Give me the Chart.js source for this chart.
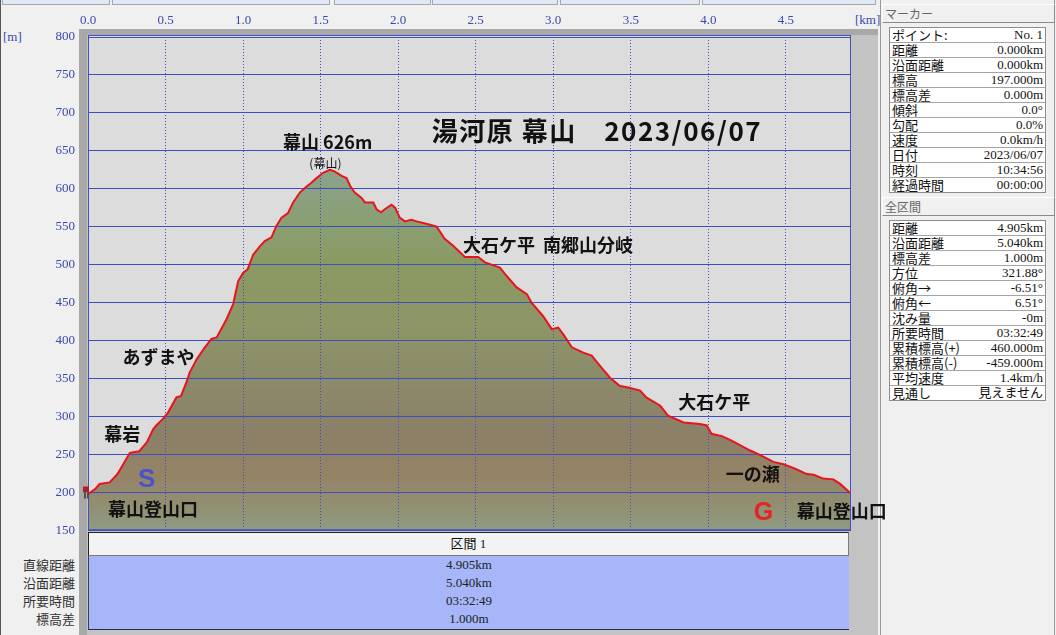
<!DOCTYPE html>
<html lang="ja">
<head>
<meta charset="utf-8">
<title>湯河原 幕山 2023/06/07</title>
<script src="https://cdn.jsdelivr.net/npm/chart.js@4.4.1/dist/chart.umd.min.js"></script>
<style>
  html, body { margin: 0; padding: 0; }
  body {
    width: 1056px; height: 635px; background: #f0f0f0;
    position: relative; overflow: hidden;
    font-family: "Noto Sans CJK JP", sans-serif; color: #111;
  }
  .abs { position: absolute; }
  .tab { top: 0; height: 4px; background: #dfe8f4; border: 1px solid #a8a8a8; border-top: 0; }
  #frame { left: 79px; top: 29px; width: 799px; height: 606px; background: #c3c3c3; }
  #frameL { left: 79px; top: 29px; width: 8px; height: 606px; background: #a8a8a8; }
  #frameT { left: 79px; top: 29px; width: 799px; height: 6px; background: #a8a8a8; }
  #chartBox { left: 0; top: 0; width: 895px; height: 551px; }
  .unit { font: 13px "Liberation Serif", serif; color: #3a48aa; }
  #secHead {
    left: 88px; top: 532px; width: 759px; height: 22px;
    background: #f3f3f3; border: 1px solid #7a7a7a; border-top-color: #222; border-left-color: #222;
    text-align: center; line-height: 22px; font: 13px "Liberation Serif", "Noto Sans CJK JP", serif;
  }
  #secBody {
    left: 88px; top: 556px; width: 760px; height: 73px;
    background: #a6b6f8; border-left: 1px solid #3a3a5a; border-bottom: 1px solid #2a2a4a;
    text-align: center; font: 13px "Liberation Serif", serif; color: #222;
  }
  #secBody div, #secLabels div { height: 18px; line-height: 18px; }
  #secLabels { left: 0; top: 556px; width: 75px; text-align: right; font-size: 13px; color: #333; }
  .vline { top: 0; width: 1px; height: 635px; background: #9a9a9a; }
  .phead {
    left: 882px; width: 169px; height: 17px; line-height: 17px;
    background: #f0f0f0; border: 1px solid #8a8a8a; border-top-color: #fff; border-left-color: #fff;
    font-size: 12px; color: #666; padding-left: 2px; box-sizing: content-box;
  }
  .ptable { left: 889px; width: 155px; border: 1px solid #8c8c8c; background: #fff; }
  .prow { height: 14px; border-bottom: 1px solid #a4a4a4; position: relative; font-size: 13px; line-height: 14px; }
  .prow:last-child { border-bottom: 0; height: 14px; }
  .prow .k { position: absolute; left: 2px; top: 0; }
  .prow .v { position: absolute; right: 2px; top: 0; font-family: "Liberation Serif", "Noto Sans CJK JP", serif; }
</style>
</head>
<body>
<div class="abs tab" style="left:2px;width:106px"></div>
<div class="abs tab" style="left:112px;width:216px"></div>
<div class="abs tab" style="left:334px;width:95px"></div>
<div class="abs tab" style="left:432px;width:124px"></div>
<div class="abs tab" style="left:560px;width:138px"></div>
<div class="abs tab" style="left:702px;width:172px"></div>
<div class="abs" style="left:0;top:0;width:1px;height:635px;background:#555"></div>

<div id="frame" class="abs"></div>
<div id="frameL" class="abs"></div>
<div id="frameT" class="abs"></div>

<div class="abs unit" style="left:3px;top:29px">[m]</div>
<div class="abs unit" style="left:855px;top:12px">[km]</div>

<div id="secHead" class="abs"></div>
<div id="secBody" class="abs"></div>
<div id="secLabels" class="abs"></div>

<div class="abs vline" style="left:880px"></div>
<div class="abs vline" style="left:1054px"></div>
<div class="abs phead" style="top:4px">マーカー</div>
<div id="markerTable" class="abs ptable" style="top:27px"></div>
<div class="abs phead" style="top:197px">全区間</div>
<div id="totalTable" class="abs ptable" style="top:220px"></div>

<div id="chartBox" class="abs"><canvas id="profile" width="895" height="551"></canvas></div>

<script>
// 断面データ (水平距離 km / 標高 m) — 画像から読み取り
const distKm = [
  0.00, 0.01, 0.05, 0.075, 0.14, 0.19, 0.23, 0.27, 0.33, 0.38,
  0.42, 0.44, 0.48, 0.516, 0.57, 0.60, 0.635, 0.656, 0.70, 0.75,
  0.796, 0.83, 0.893, 0.936, 0.968, 1.00, 1.03, 1.065, 1.108, 1.14,
  1.183, 1.215, 1.248, 1.29, 1.323, 1.366, 1.398, 1.44, 1.474, 1.516,
  1.56, 1.59, 1.635, 1.667, 1.69, 1.72, 1.764, 1.785, 1.84, 1.86,
  1.89, 1.914, 1.957, 1.98, 2.01, 2.043, 2.086, 2.12, 2.20, 2.248,
  2.30, 2.355, 2.43, 2.516, 2.56, 2.656, 2.70, 2.764, 2.83, 2.86,
  2.935, 2.99, 3.032, 3.065, 3.12, 3.194, 3.248, 3.30, 3.366, 3.43,
  3.484, 3.56, 3.60, 3.69, 3.74, 3.84, 3.946, 3.99, 4.02, 4.087,
  4.15, 4.27, 4.345, 4.42, 4.484, 4.56, 4.635, 4.68, 4.74, 4.806,
  4.85, 4.915
];
const elevM = [
  197, 199, 205, 211, 213, 224, 238, 252, 254, 266,
  283, 288, 296, 305, 325, 327, 345, 358, 375, 390,
  402, 404, 428, 448, 478, 489, 494, 513, 524, 531,
  536, 551, 562, 568, 582, 595, 601, 608, 614, 621,
  625, 623, 617, 614, 604, 595, 588, 582, 582, 573,
  569, 573, 579, 575, 562, 557, 559, 557, 553, 550,
  534, 525, 510, 510, 503, 496, 485, 470, 461, 450,
  432, 415, 417, 408, 391, 384, 380, 367, 351, 340,
  338, 334, 325, 314, 301, 292, 290, 288, 277, 274,
  268, 255, 248, 240, 237, 231, 224, 223, 218, 217,
  211, 199
];

// 軸
const xMin = 0, xMax = 4.92, xStep = 0.5;
const yMin = 150, yMax = 800, yStep = 50;

// 地点名 (km, m)
const placeNames = ['幕山 626m', '(幕山)', '大石ケ平  南郷山分岐', 'あずまや', '幕岩', '幕山登山口', '大石ケ平', '一の瀬', '幕山登山口'];
const placeKm    = [1.545, 1.531, 2.966, 0.455, 0.221, 0.419, 4.039, 4.287, 4.86];
const placeM     = [661, 633, 526, 378, 276, 178, 319, 224, 175];
const titleText = '湯河原 幕山　2023/06/07';
const titleKm = 3.282, titleM = 676.5;

// 区間 表
const sectionName = '区間 1';
const sectionLabels = ['直線距離', '沿面距離', '所要時間', '標高差'];
const sectionValues = ['4.905km', '5.040km', '03:32:49', '1.000m'];

// 右パネル
const markerKeys = ['ポイント:', '距離', '沿面距離', '標高', '標高差', '傾斜', '勾配', '速度', '日付', '時刻', '経過時間'];
const markerVals = ['No. 1', '0.000km', '0.000km', '197.000m', '0.000m', '0.0°', '0.0%', '0.0km/h', '2023/06/07', '10:34:56', '00:00:00'];
const totalKeys = ['距離', '沿面距離', '標高差', '方位', '俯角→', '俯角←', '沈み量', '所要時間', '累積標高(+)', '累積標高(-)', '平均速度', '見通し'];
const totalVals = ['4.905km', '5.040km', '1.000m', '321.88°', '-6.51°', '6.51°', '-0m', '03:32:49', '460.000m', '-459.000m', '1.4km/h', '見えません'];

function fillTable(id, keys, vals) {
  const el = document.getElementById(id);
  keys.forEach(function (k, i) {
    const row = document.createElement('div');
    row.className = 'prow';
    row.innerHTML = '<span class="k"></span><span class="v"></span>';
    row.children[0].textContent = k;
    row.children[1].textContent = vals[i];
    el.appendChild(row);
  });
}
fillTable('markerTable', markerKeys, markerVals);
fillTable('totalTable', totalKeys, totalVals);

document.getElementById('secHead').textContent = sectionName;
sectionValues.forEach(function (v) {
  const d = document.createElement('div'); d.textContent = v;
  document.getElementById('secBody').appendChild(d);
});
sectionLabels.forEach(function (v) {
  const d = document.createElement('div'); d.textContent = v;
  document.getElementById('secLabels').appendChild(d);
});

const gridBlue = '#3b4ec2';

// 標高グラデーション
function elevGradient(context) {
  const chart = context.chart;
  if (!chart.chartArea) return '#8c9468';
  const ys = chart.scales.y;
  const g = chart.ctx.createLinearGradient(0, ys.getPixelForValue(yMax), 0, ys.getPixelForValue(yMin));
  g.addColorStop(0.00, '#8ea690');
  g.addColorStop(0.26, '#8ba28c');
  g.addColorStop(0.37, '#8a9f74');
  g.addColorStop(0.46, '#8a9a62');
  g.addColorStop(0.585, '#8e9566');
  g.addColorStop(0.69, '#8b8b6a');
  g.addColorStop(0.80, '#8b8068');
  g.addColorStop(0.89, '#958366');
  g.addColorStop(0.955, '#929072');
  g.addColorStop(1.00, '#8e9c84');
  return g;
}

const framePlugin = {
  id: 'frame',
  beforeDraw(chart) {
    const a = chart.chartArea, ctx = chart.ctx;
    ctx.save();
    ctx.fillStyle = '#dcdcdc';
    ctx.fillRect(a.left, a.top - 2, a.right - a.left, a.bottom - a.top + 2);
    ctx.restore();
  },
  beforeDatasetDraw(chart, args) {
    // 塗りの上にグリッドを描き直す
    if (args.index !== 0) return;
    chart.scales.x.drawGrid(chart.chartArea);
    chart.scales.y.drawGrid(chart.chartArea);
  },
  afterDatasetsDraw(chart) {
    const a = chart.chartArea, ctx = chart.ctx;
    const xs = chart.scales.x, ys = chart.scales.y;
    ctx.save();
    ctx.strokeStyle = '#4450c0';
    ctx.lineWidth = 1;
    ctx.strokeRect(a.left + 0.5, a.top - 1.5, a.right - a.left - 1, a.bottom - a.top + 1);

    // ハイカーのアイコン
    const sx = xs.getPixelForValue(distKm[0]), sy = ys.getPixelForValue(elevM[0]);
    ctx.fillStyle = '#d8a070'; ctx.fillRect(sx - 3, sy - 11, 3, 3);
    ctx.fillStyle = '#a82030'; ctx.fillRect(sx - 5, sy - 8, 6, 6);
    ctx.fillStyle = '#505050'; ctx.fillRect(sx - 4, sy - 2, 2, 6); ctx.fillRect(sx - 1, sy - 2, 2, 6);

    ctx.textAlign = 'center';
    ctx.textBaseline = 'middle';
    ctx.fillStyle = '#111';
    ctx.font = 'bold 26px "Noto Sans CJK JP"';
    ctx.letterSpacing = '1.5px';
    ctx.fillText(titleText, xs.getPixelForValue(titleKm), ys.getPixelForValue(titleM));
    ctx.letterSpacing = '0px';

    placeNames.forEach(function (t, i) {
      ctx.font = t.charAt(0) === '(' ? '12px "Noto Sans CJK JP"' : 'bold 18px "Noto Sans CJK JP"';
      ctx.fillStyle = '#111';
      ctx.fillText(t, xs.getPixelForValue(placeKm[i]), ys.getPixelForValue(placeM[i]));
    });

    ctx.font = 'bold 26px "Liberation Sans"';
    ctx.fillStyle = '#4a52cc';
    ctx.fillText('S', xs.getPixelForValue(0.379), ys.getPixelForValue(217));
    ctx.font = 'bold 25px "Liberation Sans"';
    ctx.fillStyle = '#e42424';
    ctx.fillText('G', xs.getPixelForValue(4.355), ys.getPixelForValue(173));
    ctx.restore();
  }
};

new Chart(document.getElementById('profile').getContext('2d'), {
  type: 'line',
  data: {
    datasets: [
      {
        label: '標高',
        data: distKm.map(function (d, i) { return { x: d, y: elevM[i] }; }),
        borderColor: '#e8141c',
        borderWidth: 2,
        pointRadius: 0,
        tension: 0,
        fill: 'start',
        backgroundColor: elevGradient
      }
    ]
  },
  options: {
    responsive: false,
    animation: false,
    events: [],
    layout: { padding: { left: 0, top: 0, right: 44, bottom: 0 } },
    plugins: {
      legend: { display: false },
      tooltip: { enabled: false },
      filler: { drawTime: 'beforeDatasetsDraw' }
    },
    scales: {
      x: {
        type: 'linear', position: 'top',
        min: xMin, max: xMax,
        afterFit: function (s) { s.height = 37; },
        ticks: {
          stepSize: xStep, includeBounds: false, padding: 9, maxRotation: 0,
          color: '#3a48aa', font: { family: 'Liberation Serif', size: 13 },
          callback: function (v) { return v.toFixed(1); }
        },
        grid: { color: gridBlue, lineWidth: 1, drawTicks: false },
        border: { display: false, dash: [1, 2] }
      },
      y: {
        type: 'linear', position: 'left',
        min: yMin, max: yMax,
        afterFit: function (s) { s.width = 88; },
        ticks: {
          stepSize: yStep, padding: 13,
          color: '#3a48aa', font: { family: 'Liberation Serif', size: 13 }
        },
        grid: { color: gridBlue, lineWidth: 1, drawTicks: false },
        border: { display: false }
      }
    }
  },
  plugins: [framePlugin]
});
</script>
</body>
</html>
